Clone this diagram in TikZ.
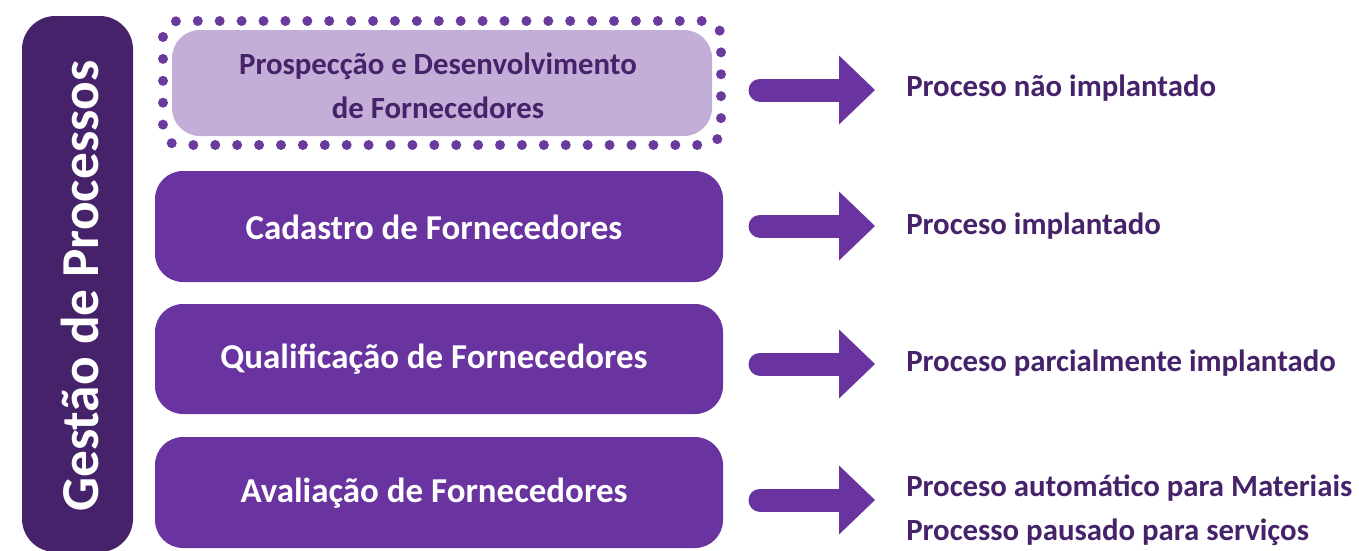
\documentclass[tikz,border=0pt]{standalone}
\usepackage{fontspec}
\setmainfont{Carlito}
\definecolor{darkbar}{HTML}{45226A}
\definecolor{boxpurple}{HTML}{6933A0}
\definecolor{lightbox}{HTML}{C3AED8}
\definecolor{dotpurple}{HTML}{6A3A9C}
\definecolor{txtpurple}{HTML}{45226A}
\begin{document}
\begin{tikzpicture}[x=0.75pt,y=-0.75pt,
  procbox/.style={fill=boxpurple, rounded corners=21pt},
  boxtext/.style={text=white, font=\bfseries\fontsize{26.2}{30}\selectfont, inner sep=0pt},
  lighttext/.style={text=txtpurple, font=\bfseries\fontsize{23.1}{33}\selectfont, align=center, inner sep=0pt},
  status/.style={text=txtpurple, font=\bfseries\fontsize{23.1}{27}\selectfont, anchor=west, inner sep=0pt},
  shaft/.style={draw=boxpurple, line width=17.25pt, line cap=round},
  head/.style={fill=boxpurple}
]
\useasboundingbox (0,0) rectangle (1359,550);
% left bar
\fill[darkbar, rounded corners=25pt] (22,16) rectangle (133,552);
\node[text=white, rotate=90, font=\bfseries\fontsize{40}{46}\selectfont, inner sep=0pt] (title) at (80,286) {Gestão de Processos};
% dotted light box
\fill[lightbox, rounded corners=21pt] (172,30) rectangle (712,136);
\draw[dotpurple, line width=7.5pt, line cap=round, dash pattern=on 0pt off 16.43pt, rounded corners=12pt] (163,21) rectangle (721,145);
\node[lighttext] (p1) at (438,86) {Prospecção e Desenvolvimento\\de Fornecedores};
% purple boxes
\fill[procbox] (155,171) rectangle (723,282);
\node[boxtext] (p2) at (434,227) {Cadastro de Fornecedores};
\fill[procbox] (155,304) rectangle (723,414);
\node[boxtext] (p3) at (434,359) {Qualificação de Fornecedores};
\fill[procbox] (155,437) rectangle (723,548);
\node[boxtext] (p4) at (434,493) {Avaliação de Fornecedores};
% status texts
\node[status] (s1) at (906,88) {Proceso não implantado};
\node[status] (s2) at (906,226) {Proceso implantado};
\node[status] (s3) at (906,363) {Proceso parcialmente implantado};
\node[status] (s4) at (906,488) {Proceso automático para Materiais};
\node[status] (s5) at (906,532) {Processo pausado para serviços};
% arrows
\foreach \y/\n in {90/1,226/2,364/3,500/4}{
  \coordinate (as\n) at (760,\y);
  \coordinate (ae\n) at (841,\y);
  \draw[shaft] (as\n) -- (ae\n);
  \fill[head] (839,\y-34.5) -- (875,\y) -- (839,\y+34.5) -- cycle;
}
\end{tikzpicture}
\end{document}
